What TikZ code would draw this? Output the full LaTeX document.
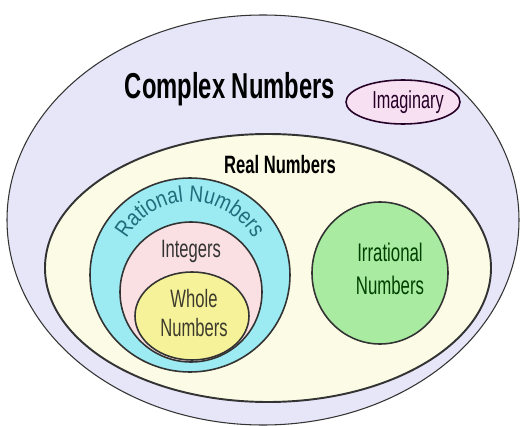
\documentclass[tikz,border=0pt]{standalone}
\usepackage{fontspec}
\newfontfamily\narrowsans{Liberation Sans}[FakeStretch=0.66]
\newfontfamily\arcsans{Liberation Sans}[FakeStretch=0.84]
\usetikzlibrary{decorations.text}

\definecolor{complexfill}{HTML}{E6E6F8}
\definecolor{realfill}{HTML}{FCFCE6}
\definecolor{rationalfill}{HTML}{9DEBF2}
\definecolor{integerfill}{HTML}{FAE0E2}
\definecolor{wholefill}{HTML}{F5F29A}
\definecolor{irrationalfill}{HTML}{A9EBA1}
\definecolor{imagfill}{HTML}{F6E0F2}
\definecolor{rationaltext}{HTML}{1E6E7C}

\tikzset{
  region/.style={draw=black!80, line width=0.9pt},
  setlabel/.style={inner sep=0pt, align=center,
    font=\narrowsans\fontsize{14.3}{17}\selectfont},
  bigtitle/.style={inner sep=0pt,
    font=\narrowsans\bfseries\fontsize{20.5}{24}\selectfont},
}

\begin{document}
\begin{tikzpicture}[x=0.02cm, y=0.02cm]
\useasboundingbox (0,0) rectangle (528,-426);
\fill[white] (0,0) rectangle (528,-426);
% complex numbers
\filldraw[region, fill=complexfill, line width=0.6pt] (263,-220) ellipse [x radius=256, y radius=205];
\node[bigtitle, anchor=base] (complex) at (230,-98) {Complex Numbers};
\filldraw[region, fill=imagfill, draw=black!70!violet] (403,-102) ellipse [x radius=57, y radius=22];
\node[setlabel, anchor=base, text=black!70!violet, font=\narrowsans\fontsize{14}{16}\selectfont] (imag) at (408,-108) {Imaginary};
% real numbers
\filldraw[region, fill=realfill, line width=1.1pt] (268,-268) ellipse [x radius=223, y radius=134];
\node[bigtitle, anchor=base, font=\narrowsans\bfseries\fontsize{14.3}{17}\selectfont] (real) at (280,-173) {Real Numbers};
% rational, integers, whole
\filldraw[region, fill=rationalfill] (190,-275) ellipse [x radius=100, y radius=97];
\path[decorate, decoration={text along path, text align=center,
  text={|\arcsans\fontsize{13}{15}\selectfont\color{rationaltext}|Rational Numbers}}]
  (190,-275) ++(160:73) arc [start angle=160, end angle=20, radius=73];
\filldraw[region, fill=integerfill] (191,-292) ellipse [x radius=71, y radius=70];
\node[setlabel, anchor=base, text=black!80] (integers) at (191,-257) {Integers};
\filldraw[region, fill=wholefill] (192,-316) ellipse [x radius=57, y radius=44];
\node[setlabel, text=black!75!olive] (whole) at (194,-313) {Whole\\Numbers};
% irrational
\filldraw[region, fill=irrationalfill] (380,-273) ellipse [x radius=68, y radius=71];
\node[setlabel, text=black!75!green, font=\narrowsans\fontsize{14.5}{18.8}\selectfont] (irrational) at (390,-269) {Irrational\\Numbers};
\end{tikzpicture}
\end{document}
